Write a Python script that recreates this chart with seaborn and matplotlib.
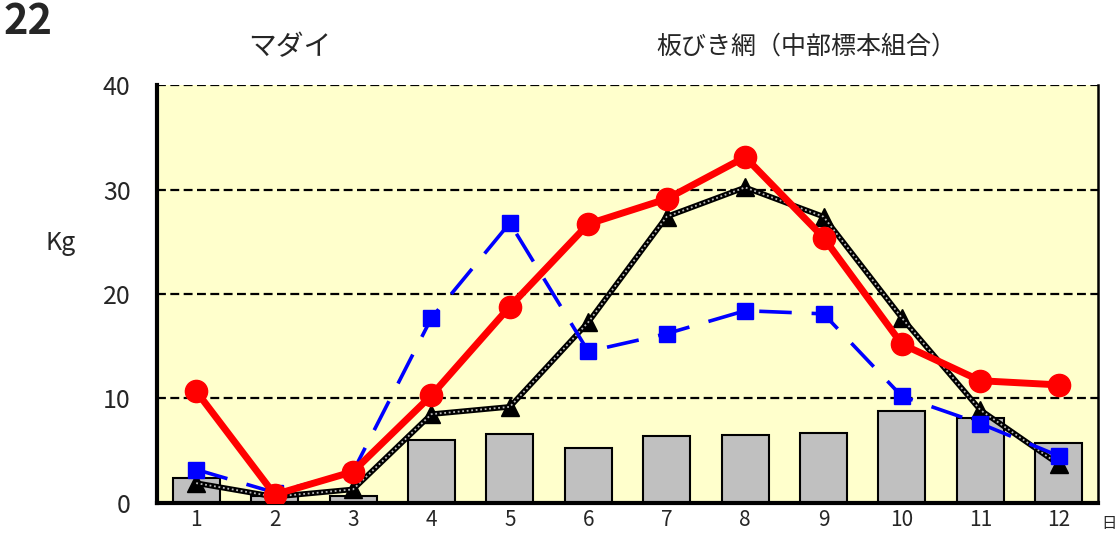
import numpy as np
import pandas as pd
import matplotlib
matplotlib.use("Agg")
import matplotlib.pyplot as plt
import seaborn as sns

# data (monthly catch, Kg)
months = ["1", "2", "3", "4", "5", "6", "7", "8", "9", "10", "11", "12"]
bar_vals = [2.4, 0.7, 0.7, 6.0, 6.6, 5.3, 6.4, 6.5, 6.7, 8.8, 8.1, 5.7]
red_vals = [10.7, 0.8, 3.0, 10.3, 18.8, 26.7, 29.1, 33.1, 25.4, 15.2, 11.7, 11.3]
blue_vals = [3.2, 1.0, 3.0, 17.7, 26.8, 14.5, 16.2, 18.4, 18.1, 10.2, 7.6, 4.5]
black_vals = [1.9, 0.6, 1.3, 8.5, 9.2, 17.3, 27.4, 30.2, 27.4, 17.7, 8.9, 3.7]
y_ticks = [0, 10, 20, 30, 40]

sns.set_style("white")
plt.rcParams['font.family'] = ['Noto Sans CJK JP', 'DejaVu Sans']

fig = plt.figure(figsize=(11.19, 5.34), dpi=100)
ax = fig.add_axes([0.1403, 0.0581, 0.8409, 0.7827])
ax.set_facecolor("#FFFFCC")

df = pd.DataFrame({"month": months, "kg": bar_vals})
sns.barplot(data=df, x="month", y="kg", order=months, color="#C0C0C0",
            edgecolor="black", linewidth=1.5, width=0.6, saturation=1, ax=ax, zorder=2)

pos = np.arange(len(months))
# black line with grey dotted core
ax.plot(pos, black_vals, color="black", lw=4, marker="^", markersize=13, zorder=3)
ax.plot(pos, black_vals, color="#BBBBBB", lw=1.3, ls=(0, (1, 1.5)), zorder=3.1)
# blue dashed line
ax.plot(pos, blue_vals, color="#0000FF", lw=2.6, dashes=(9, 5.5), marker="s",
        markersize=12, zorder=4)
# red line
ax.plot(pos, red_vals, color="#FF0000", lw=5, marker="o", markersize=16, zorder=5)

ax.set_xlim(-0.5, len(months) - 0.5)
ax.set_ylim(0, 40)
ax.set_yticks(y_ticks)
ax.set_yticklabels([str(v) for v in y_ticks], fontsize=18)
ax.set_xticks(pos)
ax.set_xticklabels(months, fontsize=15)
ax.set_xlabel("")
ax.set_ylabel("")
ax.tick_params(axis="x", length=0, pad=4)
ax.tick_params(axis="y", length=3, width=2, direction="out", pad=16)
ax.set_xticks(np.arange(0.5, len(months) - 0.5, 1.0), minor=True)
ax.tick_params(axis="x", which="minor", length=5, width=3, direction="in", color="black")

for y in y_ticks[1:]:
    ax.axhline(y, color="black", lw=1.6, ls=(0, (4, 2)), zorder=1)

for s in ["left", "bottom"]:
    ax.spines[s].set_linewidth(3)
    ax.spines[s].set_color("black")
ax.spines["right"].set_linewidth(1.8)
ax.spines["right"].set_color("black")
ax.spines["top"].set_visible(False)

fig.text(0.259, 0.912, "マダイ", fontsize=20, ha="center", va="center")
fig.text(0.721, 0.912, "板びき網（中部標本組合）", fontsize=18, ha="center", va="center")
fig.text(0.054, 0.545, "Kg", fontsize=18, ha="center", va="center")
fig.text(0.003, 0.998, "22", fontsize=30, fontweight="bold", ha="left", va="top")
fig.text(0.984, 0.004, "日", fontsize=11, ha="left", va="bottom")

fig.savefig("out.png", dpi=100)
